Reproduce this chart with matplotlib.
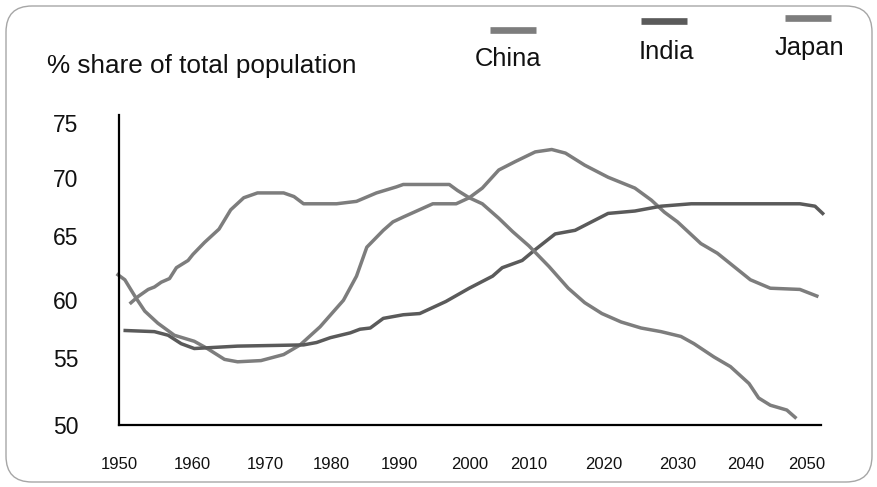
import matplotlib
matplotlib.use("Agg")
import matplotlib.pyplot as plt
from matplotlib.patches import FancyBboxPatch
from matplotlib.lines import Line2D

plt.rcParams["font.family"] = ["Liberation Sans", "DejaVu Sans"]

# Working-age population, % share of total population
china_years = [1949.0, 1950.2, 1951.7, 1953.1, 1955.0, 1957.4, 1960.3, 1962.2, 1964.7,
               1966.6, 1970.0, 1973.3, 1975.7, 1978.6, 1982.0, 1983.9, 1985.4, 1987.8,
               1989.2, 1990.7, 1995.0, 1998.4, 2000.3, 2002.2, 2004.6, 2007.0, 2009.9,
               2012.3, 2014.3, 2017.1, 2020.5, 2024.4, 2026.8, 2028.7, 2030.6, 2034.0,
               2036.4, 2038.8, 2041.2, 2044.1, 2048.4, 2051.1]
china_share = [62.2, 61.7, 60.3, 59.1, 58.1, 57.1, 56.6, 56.0, 55.1,
               54.9, 55.0, 55.5, 56.3, 57.8, 60.0, 62.0, 64.4, 65.8,
               66.5, 66.9, 68.0, 68.0, 68.5, 69.3, 70.8, 71.5, 72.3,
               72.5, 72.2, 71.2, 70.2, 69.3, 68.3, 67.3, 66.5, 64.7,
               63.9, 62.8, 61.7, 61.0, 60.9, 60.3]

india_years = [1950.0, 1954.5, 1956.5, 1958.4, 1960.3, 1966.6, 1976.2, 1978.1, 1980.1,
               1983.0, 1984.4, 1985.9, 1987.8, 1990.7, 1993.1, 1996.9, 2000.3, 2003.7,
               2005.1, 2008.0, 2009.9, 2012.8, 2015.7, 2018.1, 2020.5, 2024.4, 2028.2,
               2032.6, 2038.8, 2048.4, 2050.6, 2051.9]
india_share = [57.5, 57.4, 57.1, 56.4, 56.0, 56.2, 56.3, 56.5, 56.9,
               57.3, 57.6, 57.7, 58.5, 58.8, 58.9, 59.9, 61.0, 62.0,
               62.7, 63.3, 64.2, 65.5, 65.8, 66.5, 67.2, 67.4, 67.8,
               68.0, 68.0, 68.0, 67.8, 67.1]

japan_years = [1950.9, 1952.1, 1953.6, 1954.5, 1955.5, 1956.7, 1957.7, 1959.4, 1960.1,
               1961.8, 1963.9, 1965.6, 1967.5, 1969.5, 1973.3, 1974.8, 1976.2, 1981.0,
               1983.9, 1986.8, 1989.7, 1990.7, 1997.4, 1998.6, 2000.3, 2002.2, 2004.6,
               2006.6, 2009.0, 2011.9, 2014.7, 2017.1, 2019.6, 2022.4, 2025.3, 2028.2,
               2031.1, 2033.0, 2035.9, 2038.3, 2041.0, 2042.4, 2044.1, 2046.5, 2047.9]
japan_share = [59.7, 60.3, 60.9, 61.1, 61.5, 61.8, 62.7, 63.3, 63.8,
               64.8, 65.9, 67.5, 68.5, 68.9, 68.9, 68.6, 68.0, 68.0,
               68.2, 68.9, 69.4, 69.6, 69.6, 69.1, 68.5, 68.0, 66.8,
               65.7, 64.5, 62.8, 61.0, 59.8, 58.9, 58.2, 57.7, 57.4,
               57.0, 56.4, 55.3, 54.5, 53.1, 51.9, 51.3, 50.9, 50.2]

series_names = ["China", "India", "Japan"]
series_colors = ["#7d7d7d", "#5a5a5a", "#7d7d7d"]

x_labels = ["1950", "1960", "1970", "1980", "1990", "2000", "2010", "2020", "2030", "2040", "2050"]
x_label_pos = [1949.35, 1960.0, 1970.7, 1980.2, 1990.2, 2000.3, 2009.0, 2019.8, 2030.6, 2040.5, 2049.45]
y_labels = ["75", "70", "65", "60", "55", "50"]
y_label_pos = [74.67, 70.11, 65.35, 60.0, 55.2, 49.66]

W, H = 878, 487
fig = plt.figure(figsize=(W / 100, H / 100), dpi=100)

# Pixel-space overlay for the frame, title and legend
bg = fig.add_axes([0, 0, 1, 1], zorder=0)
bg.set_xlim(0, W)
bg.set_ylim(H, 0)
bg.axis("off")
bg.add_patch(FancyBboxPatch((6, 6), W - 12, H - 11,
                            boxstyle="round,pad=0,rounding_size=26",
                            fc="white", ec="#a6a6a6", lw=1.0))
bg.text(47, 65.5, "% share of total population", fontsize=18.8,
        ha="left", va="center", color="#111111")

legend_bar_y = [29.5, 20.7, 18.3]
legend_bar_x = [490, 641, 785]
legend_text_xy = [(508, 59), (666, 52), (809, 48)]
for name, col, bx, by, (tx, ty) in zip(series_names, series_colors, legend_bar_x,
                                       legend_bar_y, legend_text_xy):
    bg.add_line(Line2D([bx, bx + 46], [by, by], color=col, lw=4.8,
                       solid_capstyle="butt"))
    bg.text(tx, ty, name, fontsize=18.4, ha="center", va="center", color="#111111")

# Main plot area
ax = fig.add_axes([119 / W, 1 - 425 / H, (820.7 - 119) / W, (425 - 115) / H], zorder=1)
ax.patch.set_alpha(0)
ax.set_xlim(1950.07, 2051.43)
ax.set_ylim(49.67, 75.36)

for yrs, vals, col in zip([china_years, india_years, japan_years],
                          [china_share, india_share, japan_share], series_colors):
    ax.plot(yrs, vals, color=col, lw=2.5, solid_capstyle="butt",
            solid_joinstyle="round", clip_on=False)

for side in ["top", "right"]:
    ax.spines[side].set_visible(False)
for side in ["left", "bottom"]:
    ax.spines[side].set_color("black")
    ax.spines[side].set_linewidth(1.6)

ax.set_xticks(x_label_pos)
ax.set_xticklabels(x_labels, fontsize=12, color="#111111")
ax.set_yticks(y_label_pos)
ax.set_yticklabels(y_labels, fontsize=16.5, color="#111111")
ax.tick_params(axis="x", length=0, pad=23)
ax.tick_params(axis="y", length=0, pad=29)

fig.savefig("out.png", dpi=100)
